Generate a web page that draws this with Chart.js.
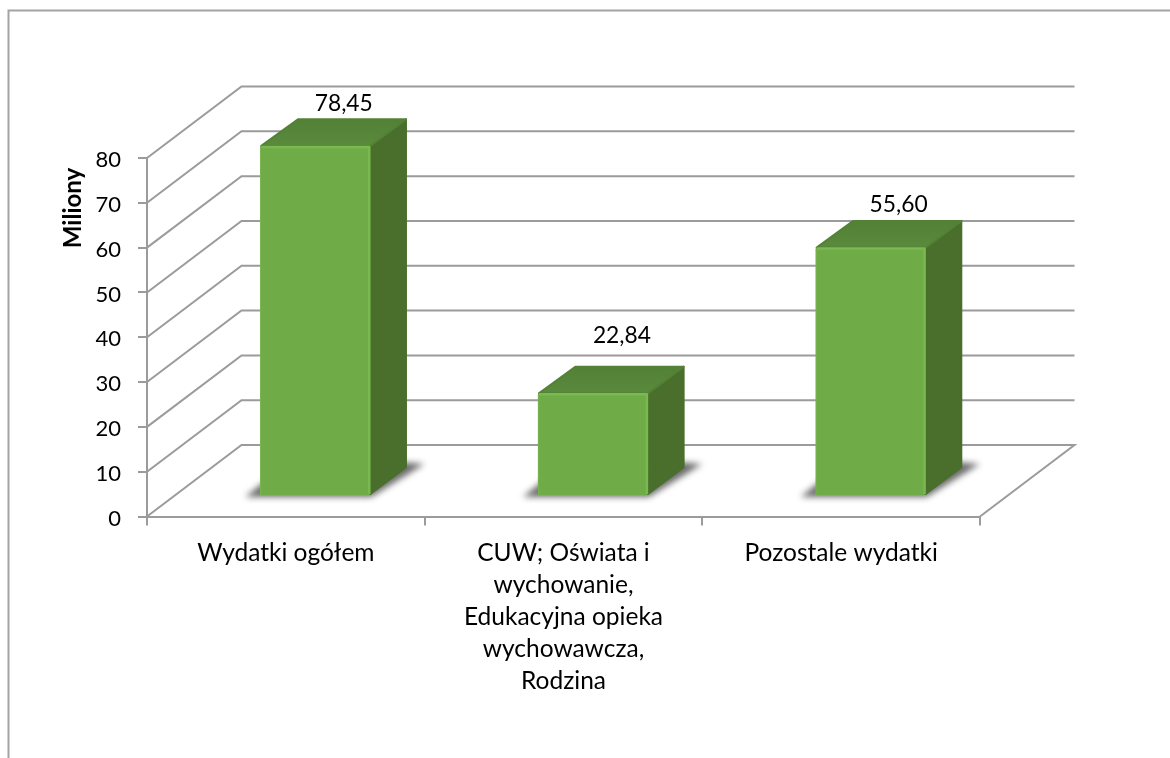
<!DOCTYPE html>
<html lang="pl">
<head>
<meta charset="utf-8">
<title>Wydatki</title>
<style>html,body{margin:0;padding:0;background:#fff}canvas{display:block}</style>
<script src="https://cdn.jsdelivr.net/npm/chart.js@4"></script>
</head>
<body>
<canvas id="c" width="1170" height="758"></canvas>
<script>
const categories = [["Wydatki ogółem"], ["CUW; Oświata i", "wychowanie,", "Edukacyjna opieka", "wychowawcza,", "Rodzina"], ["Pozostale wydatki"]];
const values = [78.45, 22.84, 55.60];
const yAxisTitle = "Miliony";
const yMin = 0, yMax = 80, yStep = 10;

const FONT = "Lato, Carlito, sans-serif";
const GRID = "#9b9b9b";
const TXT = "#000000";
const WALL = {dx: 94.5, dy: -71.5};
const BAR3D = {dx: 36.7, dy: -27.7};
const LABEL_SHIFT = [{dx: 28.5, dy: -42}, {dx: 29, dy: -58}, {dx: 28, dy: -43}];

function poly(ctx, pts) {
  ctx.beginPath();
  pts.forEach((p, i) => i ? ctx.lineTo(p[0], p[1]) : ctx.moveTo(p[0], p[1]));
  ctx.closePath();
}

const frame3d = {
  id: "frame3d",
  beforeDraw(chart) {
    const ctx = chart.ctx;
    ctx.save();
    ctx.fillStyle = "#fff";
    ctx.fillRect(0, 0, chart.width, chart.height);
    ctx.strokeStyle = "#a3a3a3";
    ctx.lineWidth = 2;
    ctx.beginPath();
    ctx.moveTo(8.5, chart.height);
    ctx.lineTo(8.5, 10.5);
    ctx.lineTo(chart.width, 10.5);
    ctx.stroke();
    ctx.restore();
  },
  beforeDatasetsDraw(chart) {
    const ctx = chart.ctx, y = chart.scales.y, x = chart.scales.x;
    const L = x.left, R = x.right;
    ctx.save();
    ctx.strokeStyle = GRID;
    ctx.lineWidth = 2;
    ctx.lineJoin = "miter";
    y.ticks.forEach(t => {
      const p = y.getPixelForValue(t.value);
      ctx.beginPath();
      ctx.moveTo(L, p);
      ctx.lineTo(L + WALL.dx, p + WALL.dy);
      ctx.lineTo(R + WALL.dx, p + WALL.dy);
      if (t.value === yMin) ctx.lineTo(R, p);
      ctx.stroke();
    });
    // floor shadows
    chart.getDatasetMeta(0).data.forEach(b => {
      const l = b.x - b.width / 2, r = b.x + b.width / 2, bo = b.base;
      ctx.save();
      ctx.filter = "blur(3px)";
      ctx.fillStyle = "rgba(70,70,70,0.8)";
      poly(ctx, [[l - 15, bo + 2], [r + 1, bo + 2], [r + 54, bo - 31], [r + 30, bo - 33], [l + 10, bo - 18]]);
      ctx.fill();
      ctx.restore();
    });
    ctx.restore();
  },
  afterDatasetsDraw(chart) {
    const ctx = chart.ctx;
    const meta = chart.getDatasetMeta(0);
    ctx.save();
    meta.data.forEach((b, i) => {
      const l = b.x - b.width / 2, r = b.x + b.width / 2, t = b.y, bo = b.base;
      const dx = BAR3D.dx, dy = BAR3D.dy;
      // side face
      ctx.fillStyle = "#4a6f2c";
      ctx.lineJoin = "round";
      ctx.lineWidth = 2;
      ctx.strokeStyle = "#4a6f2c";
      poly(ctx, [[r, t + 1], [r + dx - 1, t + dy + 1], [r + dx - 1, bo + dy], [r, bo - 1]]);
      ctx.fill(); ctx.stroke();
      // top face
      const g = ctx.createLinearGradient(0, t + dy, 0, t);
      g.addColorStop(0, "#528136");
      g.addColorStop(1, "#5a8a3c");
      ctx.fillStyle = g;
      ctx.strokeStyle = "#538237";
      poly(ctx, [[l + 1, t], [l + dx + 1, t + dy + 1], [r + dx - 1, t + dy + 1], [r, t]]);
      ctx.fill(); ctx.stroke();
      // front bevel: light seam on the right and top edges
      ctx.strokeStyle = "#79b94f";
      ctx.lineWidth = 2.5;
      ctx.lineJoin = "round";
      ctx.beginPath();
      ctx.moveTo(l + 1, t + 1);
      ctx.lineTo(r - 1, t + 1);
      ctx.lineTo(r - 1, bo - 1);
      ctx.stroke();
      // value label
      ctx.fillStyle = TXT;
      ctx.font = "22.8px " + FONT;
      ctx.textAlign = "center";
      ctx.textBaseline = "middle";
      ctx.fillText(values[i].toFixed(2).replace(".", ","), b.x + LABEL_SHIFT[i].dx, t + LABEL_SHIFT[i].dy);
    });
    // axis title
    ctx.translate(73, 208);
    ctx.rotate(-Math.PI / 2);
    ctx.fillStyle = TXT;
    ctx.font = "bold 24px " + FONT;
    ctx.textAlign = "center";
    ctx.textBaseline = "middle";
    ctx.fillText(yAxisTitle, 0, 0);
    ctx.restore();
  }
};

new Chart(document.getElementById("c"), {
  type: "bar",
  data: {
    labels: categories,
    datasets: [{
      data: values.map((v, i) => ({x: i, y: v})),
      xAxisID: "xBar",
      yAxisID: "yBar",
      backgroundColor: "#6fac47",
      borderColor: "#7bb653",
      borderWidth: 1,
      borderRadius: 2,
      barThickness: 110,
      clip: false
    }]
  },
  plugins: [frame3d],
  options: {
    responsive: false,
    animation: false,
    layout: {padding: {left: 60, top: 158, right: 190, bottom: 0}},
    plugins: {legend: {display: false}, tooltip: {enabled: false}, title: {display: false}},
    scales: {
      x: {
        type: "category",
        offset: true,
        afterFit(s) { s.height = 241.5; },
        border: {display: true, color: GRID, width: 2},
        grid: {offset: true, drawOnChartArea: false, drawTicks: true, tickLength: 9, color: GRID, lineWidth: 2},
        ticks: {
          color: TXT, maxRotation: 0, minRotation: 0, autoSkip: false, padding: 12,
          font: {family: FONT, size: 24.5, lineHeight: 1.306}
        }
      },
      y: {
        type: "linear",
        min: yMin, max: yMax,
        position: "left",
        afterFit(s) { s.width = 87; },
        border: {display: true, color: GRID, width: 2},
        grid: {drawOnChartArea: false, drawTicks: true, tickLength: 9, color: GRID, lineWidth: 2},
        ticks: {
          stepSize: yStep, color: TXT, padding: 17,
          callback: v => ["", String(v)],
          font: {family: FONT, size: 22, lineHeight: "4px"}
        }
      },
      xBar: {type: "linear", axis: "x", display: false, offset: false, min: -0.606, max: 2.394, grid: {offset: false}},
      yBar: {type: "linear", axis: "y", display: false, min: -4.83, max: 75.73}
    }
  }
});
</script>
</body>
</html>
